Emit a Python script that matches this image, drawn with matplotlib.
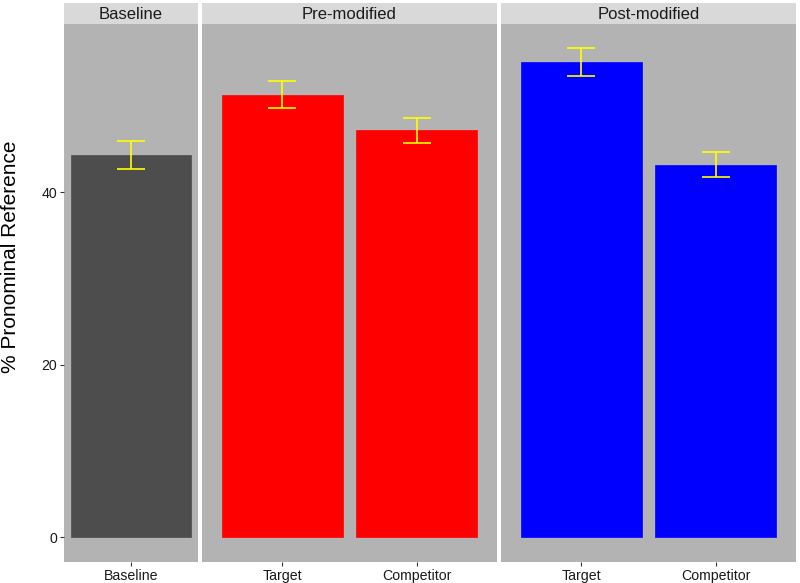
import matplotlib
matplotlib.use("Agg")
import matplotlib.pyplot as plt

plt.rcParams['font.family'] = ['Liberation Sans', 'DejaVu Sans']

# ---- data ----
facets = ["Baseline", "Pre-modified", "Post-modified"]
categories = [["Baseline"], ["Target", "Competitor"], ["Target", "Competitor"]]
values = [[44.3], [51.3, 47.2], [55.1, 43.2]]
errors = [[1.6], [1.55, 1.45], [1.6, 1.45]]
colors = ["#4d4d4d", "#ff0000", "#0000ff"]
yticks = [0, 20, 40]

W, H = 800, 583
fig = plt.figure(figsize=(W / 100, H / 100), dpi=100)
fig.patch.set_facecolor("white")

# panel pixel extents (left, right)
panel_px = [(64, 198), (202, 497), (501, 796)]
ptop, pbot = 24, 562
strip_top = 3

ymin, ymax = -2.84, 59.5

for i, (fac, cats, vals, errs, col) in enumerate(zip(facets, categories, values, errors, colors)):
    l, r = panel_px[i]
    ax = fig.add_axes([l / W, 1 - pbot / H, (r - l) / W, (pbot - ptop) / H])
    ax.set_facecolor("#b3b3b3")
    n = len(cats)
    x = list(range(1, n + 1))
    ax.bar(x, vals, width=0.9, color=col, edgecolor=col, linewidth=0.5, zorder=2)
    ax.errorbar(x, vals, yerr=errs, fmt="none", ecolor="#ffff00", elinewidth=1.2,
                capsize=10, capthick=1.2, zorder=3)
    if n == 1:
        ax.set_xlim(0.5, 1.5)
    else:
        ax.set_xlim(0.4, n + 0.6)
    ax.set_ylim(ymin, ymax)
    ax.set_xticks(x)
    ax.set_xticklabels(cats, fontsize=10.2, color="#1a1a1a")
    for s in ax.spines.values():
        s.set_visible(False)
    ax.tick_params(axis="x", length=3, width=0.8, color="#333333", pad=2)
    if i == 0:
        ax.set_yticks(yticks)
        ax.set_yticklabels([str(t) for t in yticks], fontsize=10.2, color="#1a1a1a")
        ax.tick_params(axis="y", length=3, width=0.8, color="#333333", pad=2)
    else:
        ax.set_yticks([])

    # strip
    sax = fig.add_axes([l / W, 1 - (ptop - 0.5) / H, (r - l) / W, (ptop - 0.5 - strip_top) / H])
    sax.set_facecolor("#d9d9d9")
    sax.set_xticks([])
    sax.set_yticks([])
    for s in sax.spines.values():
        s.set_visible(False)
    sax.text(0.5, 0.45, fac, ha="center", va="center", fontsize=12, color="#1a1a1a",
             transform=sax.transAxes)

fig.text(11 / W, 1 - 257 / H, "% Pronominal Reference", rotation=90, ha="center", va="center",
         fontsize=15, color="#000000")

fig.savefig("out.png", dpi=100, facecolor="white")
